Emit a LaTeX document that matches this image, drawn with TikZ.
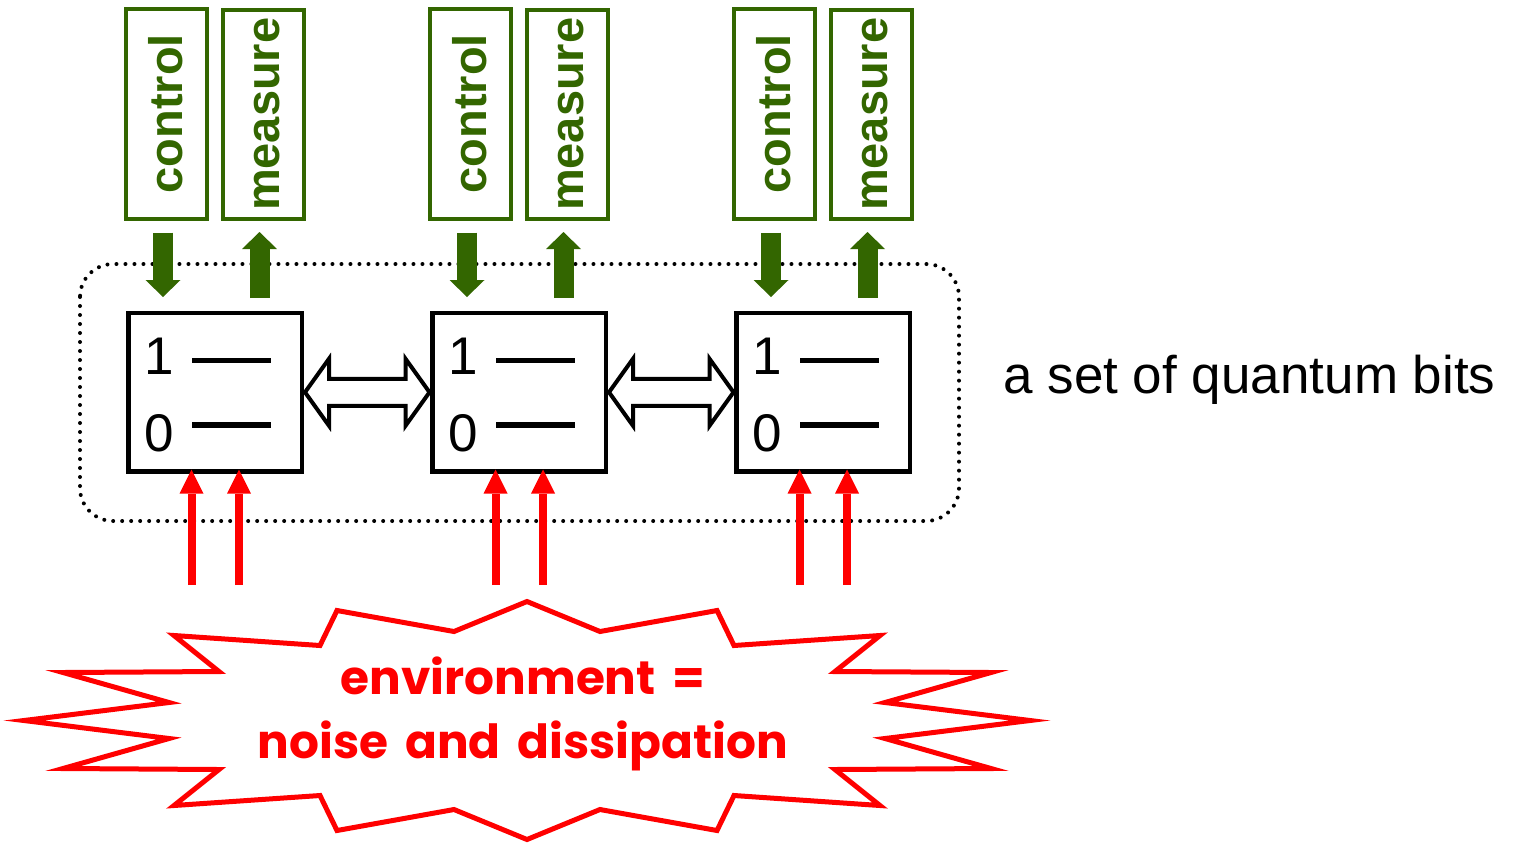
\documentclass[tikz,border=0pt]{standalone}
\usepackage{fontspec}
\setmainfont{Liberation Sans}
\newfontfamily\envfont{Poppins}[WordSpace=1.7]
\usetikzlibrary{arrows.meta,calc}
\definecolor{ctlgreen}{RGB}{51,102,0}
\definecolor{noisered}{RGB}{255,0,0}
\begin{document}
\begin{tikzpicture}[x=0.5pt,y=-0.5pt,
  qubit/.style={draw=black, line width=2.35pt, fill=white,
    minimum width=86.75pt, minimum height=79.25pt, inner sep=0pt, outer sep=0pt},
  ioport/.style={draw=ctlgreen, line width=2pt, text=ctlgreen,
    minimum width=40.5pt, minimum height=104.75pt, inner sep=0pt, outer sep=0pt,
    font=\bfseries\fontsize{23.5pt}{28pt}\selectfont},
  digit/.style={anchor=base west, inner sep=0pt, font=\fontsize{26.5pt}{30pt}\selectfont},
  level/.style={line width=2.75pt},
  garrow/.style={draw=ctlgreen, line width=10pt,
    -{Triangle[length=8.5pt,width=17.5pt,line width=0pt]}},
  rarrow/.style={draw=noisered, line width=4pt,
    -{Triangle[length=12pt,width=12pt,line width=0pt]}},
  coupler/.style={draw=black, fill=white, line width=2pt, line join=miter},
  region/.style={draw=black, line width=2pt, line cap=round,
    dash pattern=on 0pt off 4.5pt, rounded corners=16.5pt},
  burst/.style={draw=noisered, line width=2.5pt, line join=miter, fill=white},
  envtext/.style={text=noisered, align=center, inner sep=0pt,
    font=\envfont\bfseries\fontsize{23.5pt}{32pt}\selectfont},
  caption/.style={anchor=base west, inner sep=0pt, font=\fontsize{26.5pt}{30pt}\selectfont}
]
\useasboundingbox (0,0) rectangle (1515,842);

% enclosure of the qubit register
\draw[region] (80,264) rectangle (959,521);

% qubits with their control and readout ports
\foreach \i/\cx in {1/215.25, 2/519.25, 3/823.25} {
  \node[qubit] (q\i) at (\cx,392.25) {};
  \node[ioport] (ctrl\i) at (\cx-49.25,113.75) {\rotatebox{90}{\rule{0pt}{16.5pt}control}};
  \node[ioport] (meas\i) at (\cx+48.25,114.25) {\rotatebox{90}{\rule{0pt}{16.5pt}measure}};
  % energy levels
  \node[digit] (one\i) at ($(q\i.center)+(-70.75,-18.25)$) {1};
  \node[digit] (zero\i) at ($(q\i.center)+(-70.75,59.25)$) {0};
  \draw[level] ($(q\i.center)+(-23.25,-31.75)$) -- ($(q\i.center)+(55.75,-31.75)$);
  \draw[level] ($(q\i.center)+(-23.25,32.75)$) -- ($(q\i.center)+(55.75,32.75)$);
  % control in, readout out
  \draw[garrow, shorten <=7pt, shorten >=8pt]
    ($(ctrl\i.south)+(-3,0)$) -- ($(ctrl\i.south |- q\i.north)+(-3,0)$);
  \draw[garrow, shorten <=7.5pt, shorten >=6.5pt]
    ($(meas\i.south |- q\i.north)+(-4,0)$) -- ($(meas\i.south)+(-4,0)$);
  % noise acting on each qubit
  \coordinate (nl\i) at ($(q\i.south)+(-23.75,113.5)$);
  \coordinate (nr\i) at ($(q\i.south)+(23.75,113.5)$);
  \draw[rarrow, shorten >=-1pt] (nl\i) -- (nl\i |- q\i.south);
  \draw[rarrow, shorten >=-1pt] (nr\i) -- (nr\i |- q\i.south);
}

% couplings between neighbouring qubits
\newcommand\couple[2]{%
  \draw[coupler] let \p1=(#1.east), \p2=(#2.west) in
    (\x1+1.5pt,\y1) -- (\x1+13.5pt,\y1+16.75pt) -- (\x1+13.5pt,\y1+6.75pt)
    -- (\x2-13.5pt,\y1+6.75pt) -- (\x2-13.5pt,\y1+16.75pt) -- (\x2-1.5pt,\y1)
    -- (\x2-13.5pt,\y1-16.75pt) -- (\x2-13.5pt,\y1-6.75pt)
    -- (\x1+13.5pt,\y1-6.75pt) -- (\x1+13.5pt,\y1-16.75pt) -- cycle;}
\couple{q1}{q2}
\couple{q2}{q3}

\node[caption] (reg) at (1003,393) {a set of quantum bits};

% the environment
\begin{scope}[shift={(527,720.5)}]
  \draw[burst] (0,-119) -- (73,-89) -- (190,-110) -- (207,-75) -- (353,-85)
    -- (308,-49) -- (464,-48) -- (358,-18) -- (503,0) -- (358,18) -- (464,48)
    -- (308,49) -- (353,85) -- (207,75) -- (190,110) -- (73,89) -- (0,119)
    -- (-73,89) -- (-190,110) -- (-207,75) -- (-353,85) -- (-308,49)
    -- (-464,48) -- (-358,18) -- (-503,0) -- (-358,-18) -- (-464,-48)
    -- (-308,-49) -- (-353,-85) -- (-207,-75) -- (-190,-110) -- (-73,-89) -- cycle;
\end{scope}
\node[envtext] (env) at (523,714) {environment =\\noise and dissipation};
\end{tikzpicture}
\end{document}
